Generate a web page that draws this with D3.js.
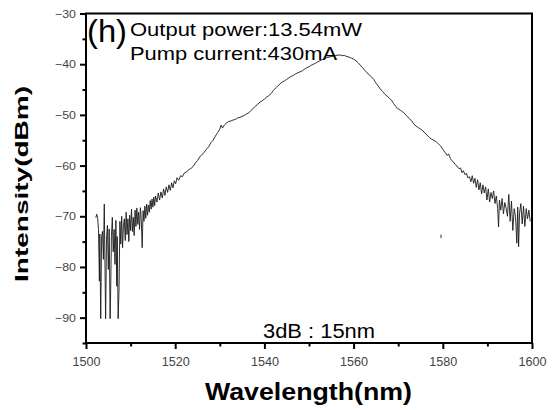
<!DOCTYPE html>
<html>
<head>
<meta charset="utf-8">
<script src="https://cdn.jsdelivr.net/npm/d3@7"></script>
<style>
  body { margin: 0; background: #fff; }
  text { font-family: "Liberation Sans", Arial, sans-serif; }
</style>
</head>
<body>
<div id="chart"></div>
<script>
// tick values
var xMajorTicks = [1500, 1520, 1540, 1560, 1580, 1600];
var xMinorTicks = [1510, 1530, 1550, 1570, 1590];
var yMajorTicks = [-30, -40, -50, -60, -70, -80, -90];
var yMinorTicks = [-35, -45, -55, -65, -75, -85, -95];

// labels
var panelLabel = '(h)';
var powerLabel = 'Output power:13.54mW';
var currentLabel = 'Pump current:430mA';
var bandwidthLabel = '3dB : 15nm';
var xTitle = 'Wavelength(nm)';
var yTitle = 'Intensity(dBm)';

// spectrum: [wavelength nm, intensity dBm]
var spectrum = [
    [1502.2, -70.3], [1502.4, -69.6], [1502.6, -70.2], [1502.8, -72.6], [1503.0, -82.8],
    [1503.1, -73.5], [1503.3, -90.2], [1503.5, -74.0], [1503.7, -73.0], [1503.9, -78.5],
    [1504.1, -67.6], [1504.2, -75.5], [1504.4, -90.2], [1504.6, -74.5], [1504.8, -71.8],
    [1505.0, -80.5], [1505.2, -72.5], [1505.4, -90.2], [1505.5, -86.8], [1505.7, -74.0],
    [1505.9, -70.2], [1506.1, -77.0], [1506.3, -72.6], [1506.5, -79.5], [1506.7, -70.8],
    [1506.9, -83.8], [1507.0, -74.0], [1507.2, -90.2], [1507.4, -84.7], [1507.6, -71.0],
    [1507.8, -75.5], [1508.0, -70.0], [1508.2, -76.2], [1508.4, -71.8], [1508.6, -70.5],
    [1508.8, -74.8], [1509.0, -69.2], [1509.2, -73.6], [1509.4, -70.5], [1509.6, -75.0],
    [1509.8, -69.8], [1510.0, -72.8], [1510.2, -68.6], [1510.4, -73.0], [1510.6, -70.2],
    [1510.8, -73.8], [1511.0, -68.8], [1511.2, -72.0], [1511.4, -68.4], [1511.6, -71.6],
    [1511.8, -69.2], [1512.0, -72.6], [1512.2, -68.3], [1512.4, -70.8], [1512.6, -76.2],
    [1512.8, -68.9], [1513.0, -71.0], [1513.2, -68.0], [1513.4, -70.4], [1513.6, -67.6],
    [1513.8, -69.8], [1514.0, -67.8], [1514.2, -69.2], [1514.4, -66.9], [1514.6, -68.6],
    [1514.8, -66.6], [1515.0, -68.2], [1515.2, -66.2], [1515.4, -67.9], [1515.6, -66.0],
    [1515.9, -67.2], [1516.2, -65.4], [1516.5, -66.8], [1516.8, -65.2], [1517.1, -66.4],
    [1517.4, -64.6], [1517.7, -65.9], [1518.0, -64.2], [1518.3, -65.3], [1518.6, -63.8],
    [1518.9, -64.9], [1519.2, -63.4], [1519.5, -64.4], [1519.8, -63.0], [1520.1, -63.6],
    [1520.4, -62.4], [1520.8, -62.9], [1521.2, -62.0], [1521.6, -62.2], [1522.0, -61.5],
    [1522.5, -61.3], [1523.0, -60.8], [1523.5, -60.6], [1524.0, -60.2], [1524.5, -59.5],
    [1525.0, -59.0], [1525.5, -58.3], [1526.0, -57.8], [1526.5, -57.4], [1527.0, -56.8],
    [1527.5, -56.3], [1528.0, -55.5], [1528.5, -55.0], [1529.0, -54.2], [1529.5, -53.5],
    [1530.0, -52.8], [1530.3, -52.0], [1530.6, -52.6], [1531.0, -52.0], [1531.5, -51.6],
    [1532.0, -51.3], [1532.5, -51.2], [1533.0, -51.0], [1533.5, -50.9], [1534.0, -50.6],
    [1534.5, -50.5], [1535.0, -50.3], [1535.5, -50.1], [1536.0, -49.8], [1536.5, -49.6],
    [1537.0, -49.1], [1537.5, -48.7], [1538.0, -48.3], [1538.5, -47.9], [1539.0, -47.5],
    [1539.5, -47.2], [1540.0, -46.9], [1540.5, -46.5], [1541.0, -46.2], [1541.5, -45.8],
    [1542.0, -45.2], [1542.5, -44.7], [1543.0, -44.3], [1543.5, -43.9], [1544.0, -43.5],
    [1544.5, -43.3], [1545.0, -43.0], [1545.5, -42.7], [1546.0, -42.4], [1546.5, -42.2],
    [1547.0, -41.9], [1547.5, -41.7], [1548.0, -41.5], [1548.5, -41.3], [1549.0, -41.0],
    [1549.5, -40.7], [1550.0, -40.5], [1550.5, -40.2], [1551.0, -40.0], [1551.5, -39.8],
    [1552.0, -39.5], [1552.5, -39.3], [1553.0, -39.1], [1553.5, -38.9], [1554.0, -38.7],
    [1554.5, -38.6], [1555.0, -38.5], [1555.5, -38.4], [1556.0, -38.3], [1556.5, -38.2],
    [1557.0, -38.2], [1557.5, -38.3], [1558.0, -38.3], [1558.5, -38.5], [1559.0, -38.6],
    [1559.5, -38.8], [1560.0, -39.0], [1560.5, -39.3], [1561.0, -39.7], [1561.5, -40.2],
    [1562.0, -40.7], [1562.5, -41.2], [1563.0, -41.7], [1563.5, -42.1], [1564.0, -42.5],
    [1564.5, -43.0], [1565.0, -43.7], [1565.5, -44.3], [1566.0, -44.9], [1566.5, -45.4],
    [1567.0, -45.9], [1567.5, -46.3], [1568.0, -46.7], [1568.5, -47.1], [1569.0, -47.8],
    [1569.5, -48.4], [1570.0, -48.8], [1570.5, -49.1], [1571.0, -49.4], [1571.5, -49.8],
    [1572.0, -50.3], [1572.5, -50.7], [1573.0, -51.2], [1573.5, -51.8], [1574.0, -52.2],
    [1574.5, -52.5], [1575.0, -52.8], [1575.5, -53.1], [1576.0, -53.6], [1576.5, -54.0],
    [1577.0, -54.5], [1577.5, -54.8], [1578.0, -55.0], [1578.5, -55.3], [1579.0, -55.7],
    [1579.5, -56.1], [1580.0, -56.8], [1580.5, -57.4], [1581.0, -58.0], [1581.3, -57.7],
    [1581.7, -58.6], [1582.0, -59.0], [1582.4, -59.3], [1582.8, -59.8], [1583.2, -60.1],
    [1583.6, -60.6], [1584.0, -60.5], [1584.3, -61.4], [1584.6, -61.0], [1585.0, -61.8],
    [1585.3, -61.5], [1585.6, -62.4], [1586.0, -62.2], [1586.3, -63.2], [1586.6, -62.0],
    [1586.9, -63.5], [1587.2, -62.5], [1587.5, -64.3], [1587.8, -62.8], [1588.1, -64.8],
    [1588.4, -63.4], [1588.7, -65.6], [1589.0, -63.8], [1589.3, -65.4], [1589.6, -64.2],
    [1589.9, -66.8], [1590.2, -64.6], [1590.5, -67.2], [1590.8, -65.3], [1591.1, -66.5],
    [1591.4, -65.0], [1591.7, -67.5], [1592.0, -66.0], [1592.3, -68.5], [1592.5, -72.1],
    [1592.7, -66.8], [1593.0, -68.8], [1593.3, -66.5], [1593.6, -69.5], [1593.9, -67.3],
    [1594.2, -68.4], [1594.5, -70.0], [1594.8, -65.7], [1595.1, -71.0], [1595.4, -67.0],
    [1595.7, -72.8], [1596.0, -68.5], [1596.3, -70.0], [1596.6, -75.3], [1596.8, -68.2],
    [1597.0, -76.0], [1597.2, -69.5], [1597.5, -67.5], [1597.8, -71.5], [1598.1, -68.0],
    [1598.4, -72.0], [1598.7, -68.5], [1599.0, -70.5], [1599.3, -68.8], [1599.6, -71.0]
];
// lone speck below the right slope
var strayMark = [[1579.6, -73.6], [1579.6, -74.3]];

var width = 552, height = 410;
var svg = d3.select('#chart').append('svg').attr('width', width).attr('height', height);

var x = d3.scaleLinear().domain([1500, 1600]).range([86, 532]);
var y = d3.scaleLinear().domain([-95, -30]).range([343, 13.5]);

//bottom axis
var xMajor = svg.append('g').attr('transform', 'translate(0,343)')
    .call(d3.axisBottom(x).tickValues(xMajorTicks).tickSize(6).tickPadding(8).tickFormat(d3.format('d')));
svg.append('g').attr('transform', 'translate(0,343)')
    .call(d3.axisBottom(x).tickValues(xMinorTicks).tickSize(3.5).tickFormat(''));
xMajor.selectAll('text').attr('font-size', 12.5).attr('fill', '#444')
    .attr('textLength', 28).attr('lengthAdjust', 'spacingAndGlyphs');

//left axis
var yMajor = svg.append('g').attr('transform', 'translate(86,0)')
    .call(d3.axisLeft(y).tickValues(yMajorTicks).tickSize(6).tickPadding(4));
svg.append('g').attr('transform', 'translate(86,0)')
    .call(d3.axisLeft(y).tickValues(yMinorTicks).tickSize(3.5).tickFormat(''));
yMajor.selectAll('text').attr('font-size', 11).attr('fill', '#444')
    .attr('textLength', 21).attr('lengthAdjust', 'spacingAndGlyphs');

svg.selectAll('.domain').remove();
svg.selectAll('.tick line').attr('stroke', '#000').attr('stroke-width', 2);

// spectrum trace
var line = d3.line().x(function (d) { return x(d[0]); }).y(function (d) { return y(d[1]); });
svg.append('path').datum(spectrum).attr('d', line)
    .attr('fill', 'none').attr('stroke', '#1a1a1a').attr('stroke-width', 0.9);
svg.append('path').datum(strayMark).attr('d', line)
    .attr('fill', 'none').attr('stroke', '#333').attr('stroke-width', 1);

// frame
svg.append('rect')
    .attr('x', x(1500)).attr('y', y(-30))
    .attr('width', x(1600) - x(1500)).attr('height', y(-95) - y(-30))
    .attr('fill', 'none').attr('stroke', '#000').attr('stroke-width', 2);

function addText(str, px, py, size, len, weight) {
    return svg.append('text').text(str)
        .attr('x', px).attr('y', py)
        .attr('font-size', size)
        .attr('font-weight', weight || 'normal')
        .attr('textLength', len).attr('lengthAdjust', 'spacingAndGlyphs')
        .attr('fill', '#000');
}

addText(panelLabel, 87, 42, 31, 40);
addText(powerLabel, 130, 36, 19, 232);
addText(currentLabel, 130, 60, 19, 207);
addText(bandwidthLabel, 263, 338, 20, 112);
addText(xTitle, 205, 400, 23, 207, 'bold');

svg.append('text').text(yTitle)
    .attr('transform', 'translate(28,282) rotate(-90)')
    .attr('font-size', 18).attr('font-weight', 'bold')
    .attr('textLength', 196).attr('lengthAdjust', 'spacingAndGlyphs');
</script>
</body>
</html>
